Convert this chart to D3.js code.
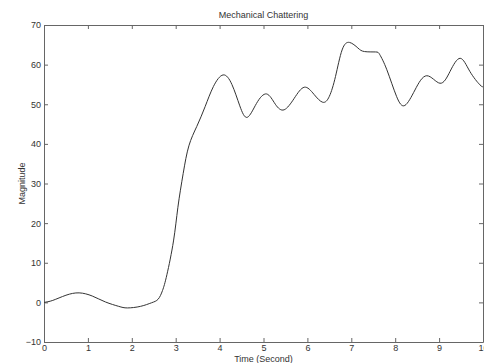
<!DOCTYPE html>
<html>
<head>
<meta charset="utf-8">
<script src="https://cdn.jsdelivr.net/npm/d3@7"></script>
<style>
  html, body { margin: 0; padding: 0; background: #fff; }
  text { font-family: Arial, "Liberation Sans", sans-serif; font-size: 9px; fill: #333; }
</style>
</head>
<body>
<figure id="plot" style="margin:0"></figure>
<script>
// time samples (seconds) and magnitude
const time = [0.0, 0.2, 0.5, 0.8, 1.1, 1.4, 1.7, 1.9, 2.2, 2.45, 2.6, 2.7, 2.8, 2.95, 3.05,
  3.17, 3.3, 3.48, 3.67, 3.86, 4.08, 4.28, 4.46, 4.63, 4.84, 5.07, 5.27, 5.47, 5.7, 5.93,
  6.15, 6.35, 6.5, 6.64, 6.79, 6.96, 7.15, 7.3, 7.55, 7.65, 7.81, 8.03, 8.22, 8.45, 8.72,
  9.02, 9.25, 9.48, 9.7, 9.93, 10.0];
const magnitude = [0.0, 0.5, 1.8, 2.4, 1.6, 0.1, -1.0, -1.4, -1.0, -0.1, 0.8, 3.0, 7.0, 15.5, 24,
  32.5, 39.5, 44.4, 49.4, 54.5, 57.4, 55.0, 49.6, 46.7, 50.2, 52.6, 50.0, 48.6, 51.5, 54.3,
  52.5, 50.5, 52.0, 57.0, 63.7, 65.6, 64.2, 63.3, 63.2, 62.5, 58.7, 52.0, 49.7, 53.6, 57.2,
  55.3, 58.3, 61.6, 58.3, 54.9, 54.5];
const xTicks = [0, 1, 2, 3, 4, 5, 6, 7, 8, 9, 10];
const yTicks = [-10, 0, 10, 20, 30, 40, 50, 60, 70];

const W = 484, H = 363;
const mLeft = 44, mRight = 483, mTop = 25, mBottom = 342;
const tickLen = 4;

const svg = d3.select("#plot").append("svg")
  .attr("width", W)
  .attr("height", H);

const x = d3.scaleLinear().domain([0, 10]).range([mLeft, mRight]);
const y = d3.scaleLinear().domain([-10, 70]).range([mBottom, mTop]);

// bottom axis (ticks pointing inward) and top ticks
svg.append("g")
  .attr("transform", "translate(0," + mBottom + ")")
  .call(d3.axisBottom(x).tickValues(xTicks).tickSizeInner(-tickLen).tickSizeOuter(0).tickPadding(3));
svg.append("g")
  .attr("transform", "translate(0," + mTop + ")")
  .call(d3.axisTop(x).tickValues(xTicks).tickSizeInner(-tickLen).tickSizeOuter(0).tickFormat(""));

// left axis and right ticks
svg.append("g")
  .attr("transform", "translate(" + mLeft + ",0)")
  .call(d3.axisLeft(y).tickValues(yTicks).tickSizeInner(-tickLen).tickSizeOuter(0).tickPadding(3));
svg.append("g")
  .attr("transform", "translate(" + mRight + ",0)")
  .call(d3.axisRight(y).tickValues(yTicks).tickSizeInner(-tickLen).tickSizeOuter(0).tickFormat(""));

svg.selectAll(".domain, .tick line").attr("stroke", "#666");
svg.selectAll(".tick text").attr("fill", "#333").style("font-size", "9px")
  .style("font-family", "Arial, 'Liberation Sans', sans-serif");

// the curve
const pts = time.map((t, i) => [t, magnitude[i]]);
svg.append("path")
  .datum(pts)
  .attr("fill", "none")
  .attr("stroke", "#333")
  .attr("stroke-width", 1)
  .attr("d", d3.line()
    .x(d => x(d[0]))
    .y(d => y(d[1]))
    .curve(d3.curveNatural));

// labels
svg.append("text")
  .attr("x", (mLeft + mRight) / 2)
  .attr("y", 18)
  .attr("text-anchor", "middle")
  .text("Mechanical Chattering");

svg.append("text")
  .attr("x", (mLeft + mRight) / 2)
  .attr("y", 362)
  .attr("text-anchor", "middle")
  .text("Time (Second)");

svg.append("text")
  .attr("transform", "translate(25," + ((mTop + mBottom) / 2) + ") rotate(-90)")
  .attr("text-anchor", "middle")
  .text("Magnitude");
</script>
</body>
</html>
